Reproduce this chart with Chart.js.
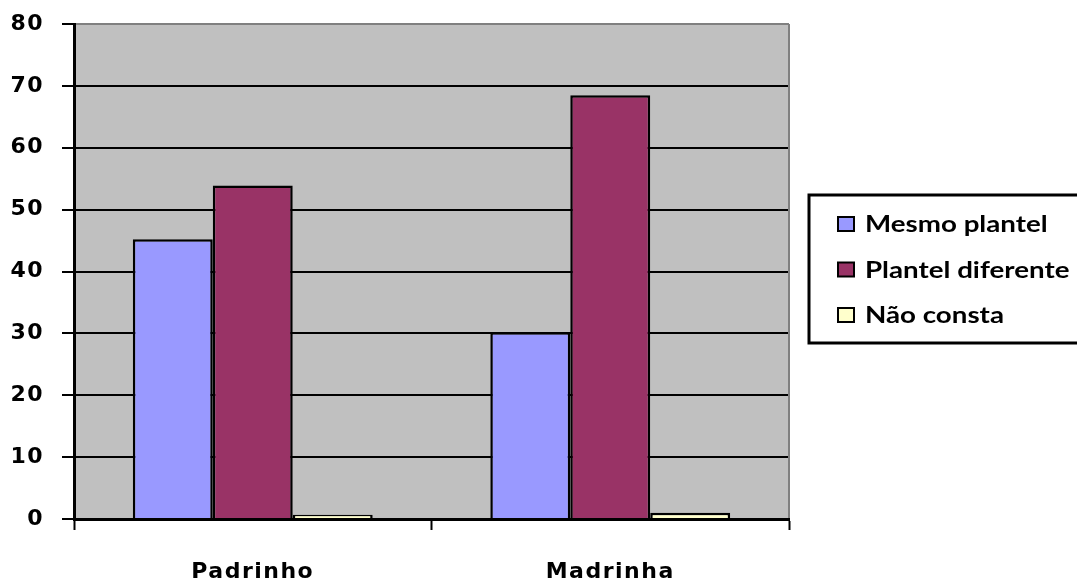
<!DOCTYPE html>
<html>
<head>
<meta charset="utf-8">
<script src="https://cdn.jsdelivr.net/npm/chart.js@4"></script>
<style>
  html, body { margin: 0; padding: 0; background: #ffffff; }
  #wrap { position: relative; width: 1077px; height: 584px; }
</style>
</head>
<body>
<div id="wrap"><canvas id="chart"></canvas></div>
<script>
// Categories and series values
const categories = ['Padrinho', 'Madrinha'];
const seriesNames = ['Mesmo plantel', 'Plantel diferente', 'Não consta'];
const mesmoPlantel = [45.2, 30.2];
const plantelDiferente = [53.9, 68.5];
const naoConsta = [0.7, 1.0];
const seriesColors = ['#9999FF', '#993366', '#FFFFCC'];
const yMin = 0, yMax = 80, yStep = 10;

const tickFont = { family: '"DejaVu Sans", sans-serif', weight: 'bold', size: 22 };
const legendFont = 'bold 22px Lato, "Open Sans", sans-serif';

// Grey plot area plus its grey right edge; axis text gets a little tracking
const plotFrame = {
  id: 'plotFrame',
  beforeDraw(chart) {
    const { ctx, chartArea: a } = chart;
    ctx.save();
    ctx.fillStyle = '#C0C0C0';
    ctx.fillRect(a.left, a.top, a.right - a.left, a.bottom - a.top);
    ctx.restore();
    if ('letterSpacing' in ctx) ctx.letterSpacing = '1.5px';
  },
  beforeDatasetsDraw(chart) {
    if ('letterSpacing' in chart.ctx) chart.ctx.letterSpacing = '0px';
  },
  afterDraw(chart) {
    const { ctx, chartArea: a } = chart;
    ctx.save();
    ctx.strokeStyle = '#808080';
    ctx.lineWidth = 2;
    ctx.beginPath();
    ctx.moveTo(a.right, a.top);
    ctx.lineTo(a.right, a.bottom - 1);
    ctx.stroke();
    ctx.restore();
  }
};

// Boxed legend at the right, built from the datasets
const boxLegend = {
  id: 'boxLegend',
  afterDraw(chart) {
    const { ctx } = chart;
    const box = { x: 809, y: 195, w: 275, h: 148 };
    ctx.save();
    if ('letterSpacing' in ctx) ctx.letterSpacing = '0px';
    ctx.strokeStyle = '#000000';
    ctx.lineWidth = 3;
    ctx.strokeRect(box.x, box.y, box.w, box.h);
    ctx.font = legendFont;
    ctx.textBaseline = 'middle';
    chart.data.datasets.forEach((ds, i) => {
      const cy = 224 + i * 45.5;
      ctx.fillStyle = ds.backgroundColor;
      ctx.fillRect(838, cy - 7, 16, 14);
      ctx.lineWidth = 2;
      ctx.strokeStyle = '#000000';
      ctx.strokeRect(838, cy - 7, 16, 14);
      ctx.fillStyle = '#000000';
      ctx.save();
      ctx.translate(865, cy + 1);
      ctx.scale(1.26, 1);
      ctx.fillText(ds.label, 0, 0);
      ctx.restore();
    });
    ctx.restore();
  }
};

const datasets = [mesmoPlantel, plantelDiferente, naoConsta].map((values, i) => ({
  label: seriesNames[i],
  data: values,
  backgroundColor: seriesColors[i],
  borderColor: '#000000',
  borderWidth: 2.5,
  borderSkipped: 'start',
  categoryPercentage: 0.671,
  barPercentage: 1.0
}));

new Chart(document.getElementById('chart'), {
  type: 'bar',
  data: { labels: categories, datasets },
  plugins: [plotFrame, boxLegend],
  options: {
    responsive: true,
    maintainAspectRatio: false,
    animation: false,
    layout: { padding: { top: 24, right: 288, left: 0, bottom: 0 } },
    plugins: {
      legend: { display: false },
      tooltip: { enabled: false }
    },
    scales: {
      x: {
        z: 1,
        grid: {
          drawOnChartArea: false,
          drawTicks: true,
          tickLength: 11,
          tickColor: '#000000',
          tickWidth: 2
        },
        border: { display: true, color: '#000000', width: 3 },
        ticks: { color: '#000000', font: tickFont, padding: 29 },
        afterFit(scale) {
          scale.height = 65;
          scale.paddingLeft = 0;
          scale.paddingRight = 0;
        }
      },
      y: {
        min: yMin,
        max: yMax,
        grid: {
          color: (ctx) => (ctx.tick && ctx.tick.value === yMax ? '#808080' : '#000000'),
          lineWidth: 2,
          tickLength: 12,
          tickColor: '#000000',
          tickWidth: 2
        },
        border: { display: true, color: '#000000', width: 3 },
        ticks: { stepSize: yStep, color: '#000000', font: tickFont, padding: 18 },
        afterFit(scale) {
          scale.width = 74;
          scale.paddingTop = 0;
          scale.paddingBottom = 0;
        }
      }
    }
  }
});
</script>
</body>
</html>
